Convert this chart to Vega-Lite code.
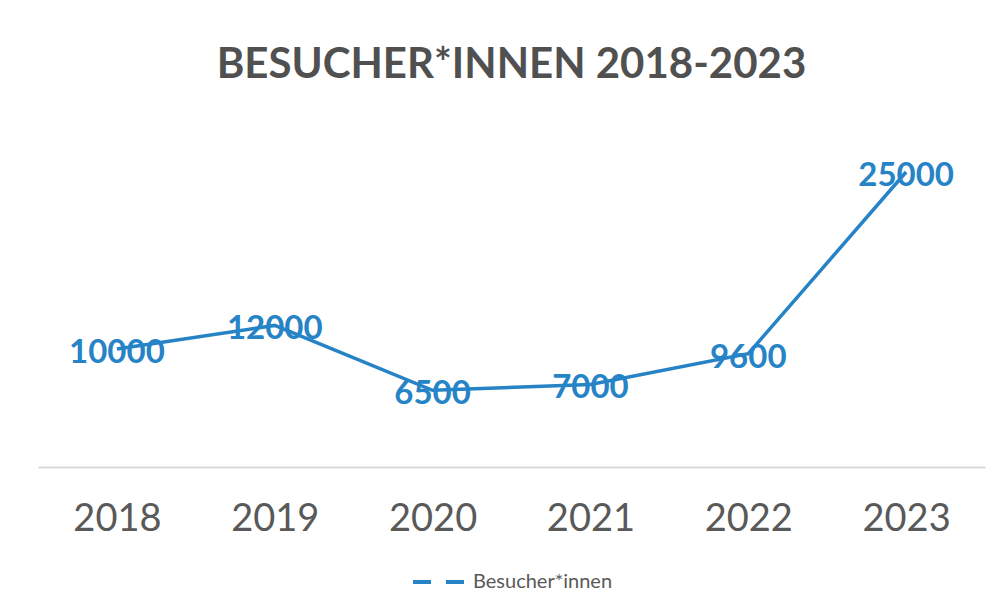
{
  "$schema": "https://vega.github.io/schema/vega-lite/v6.json",
  "autosize": {"type": "none"},
  "width": 947,
  "height": 354,
  "padding": {"left": 38, "top": 113, "right": 20, "bottom": 141},
  "background": "white",
  "title": {
    "text": "BESUCHER*INNEN 2018-2023",
    "font": "Lato",
    "fontSize": 42,
    "fontWeight": "bold",
    "color": "#505050",
    "anchor": "middle",
    "offset": 26
  },
  "config": {
    "view": {"stroke": null},
    "legend": {"layout": {"bottom": {"anchor": "middle"}}}
  },
  "data": {
    "values": [
      {"Jahr": "2018", "Besucher": 10000, "Serie": "Besucher*innen"},
      {"Jahr": "2019", "Besucher": 12000, "Serie": "Besucher*innen"},
      {"Jahr": "2020", "Besucher": 6500, "Serie": "Besucher*innen"},
      {"Jahr": "2021", "Besucher": 7000, "Serie": "Besucher*innen"},
      {"Jahr": "2022", "Besucher": 9600, "Serie": "Besucher*innen"},
      {"Jahr": "2023", "Besucher": 25000, "Serie": "Besucher*innen"}
    ]
  },
  "encoding": {
    "x": {
      "field": "Jahr",
      "type": "ordinal",
      "scale": {"type": "point", "padding": 0.5},
      "axis": {
        "title": null,
        "labelAngle": 0,
        "labelFont": "Lato",
        "labelFontSize": 38,
        "labelColor": "#595959",
        "labelPadding": 33,
        "ticks": false,
        "domainColor": "#D9D9D9",
        "domainWidth": 2,
        "grid": false
      }
    },
    "y": {
      "field": "Besucher",
      "type": "quantitative",
      "scale": {"domain": [0, 30000]},
      "axis": null
    }
  },
  "layer": [
    {
      "mark": {"type": "line", "strokeWidth": 3.5},
      "encoding": {
        "color": {
          "field": "Serie",
          "type": "nominal",
          "scale": {"range": ["#2683C6"]},
          "legend": {
            "title": null,
            "orient": "bottom",
            "direction": "horizontal",
            "offset": 16,
            "symbolType": "stroke",
            "symbolSize": 2700,
            "symbolStrokeWidth": 4,
            "symbolDash": [18, 15],
            "labelFont": "Lato",
            "labelFontSize": 20,
            "labelColor": "#595959",
            "labelOffset": 6
          }
        }
      }
    },
    {
      "mark": {
        "type": "text",
        "font": "Lato",
        "fontSize": 33,
        "fontWeight": "bold",
        "color": "#2683C6",
        "baseline": "middle",
        "dy": 4
      },
      "encoding": {"text": {"field": "Besucher", "type": "quantitative"}}
    }
  ]
}
